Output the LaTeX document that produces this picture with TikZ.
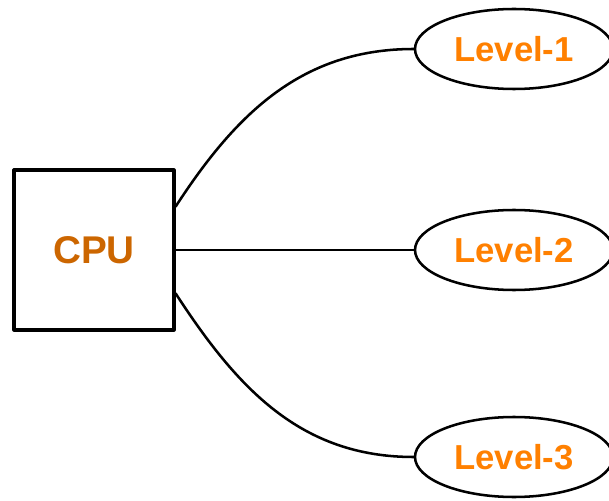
\documentclass[tikz,border=0pt]{standalone}
\usepackage{fontspec}
\setmainfont{Liberation Sans}
\usetikzlibrary{shapes.geometric}

\definecolor{cpuorange}{HTML}{CC6600}
\definecolor{lvlorange}{HTML}{FF8000}

\begin{document}
\begin{tikzpicture}[x=0.75pt, y=0.75pt, line cap=round, line join=round,
  unitbox/.style={draw, line width=2.4pt, minimum size=120pt, inner sep=0pt,
    font=\bfseries\fontsize{29}{34}\selectfont, text=cpuorange},
  levelnode/.style={draw, ellipse, line width=1.9pt, fill=white,
    minimum width=148.5pt, minimum height=60pt, inner sep=0pt,
    font=\bfseries\fontsize{26}{30}\selectfont, text=lvlorange},
  link/.style={line width=1.9pt}]
  % page frame, the ellipses run over its right edge
  \clip (0,0) rectangle (609,500);

  % processor on the left
  \node[unitbox] (cpu) at (94,250) {CPU};

  % the three levels on the right
  \node[levelnode] (lvA) at (514,451) {Level-1};
  \node[levelnode] (lvB) at (514,250) {Level-2};
  \node[levelnode] (lvC) at (514,43) {Level-3};

  % connections from the processor
  \draw[link] (cpu.28) to[out=57, in=180] (lvA.west);
  \draw[link] (cpu.east) -- (lvB.west);
  \draw[link] (cpu.-28) to[out=-57, in=180] (lvC.west);
\end{tikzpicture}
\end{document}
